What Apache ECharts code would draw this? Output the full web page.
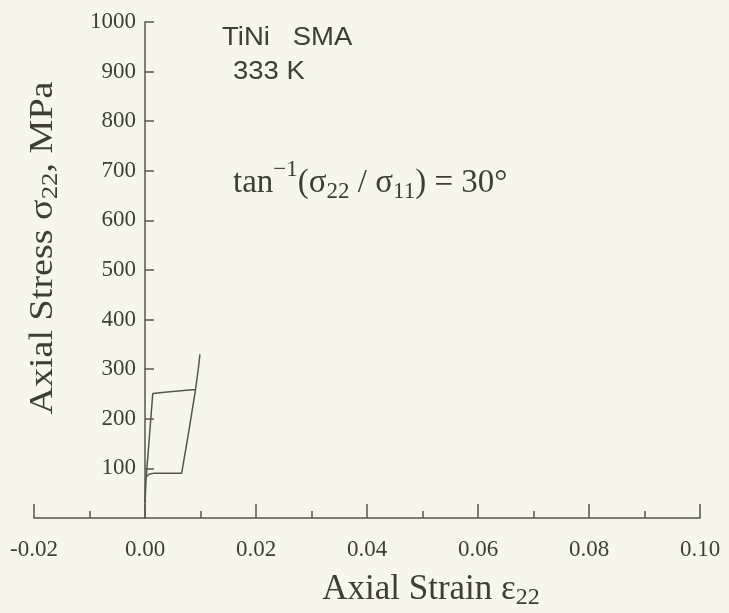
<!DOCTYPE html>
<html>
<head>
<meta charset="utf-8">
<script src="https://cdn.jsdelivr.net/npm/echarts@6/dist/echarts.min.js"></script>
<style>
html,body{margin:0;padding:0;background:#f6f7ea;}
#chart{width:729px;height:613px;}
</style>
</head>
<body>
<div id="chart"></div>
<script>
// Data: axial strain (x) and axial stress in MPa (y)
const strain = [0.0000, 0.0002, 0.0008, 0.0014, 0.0040, 0.0070, 0.0091, 0.0096, 0.0099, 0.0096, 0.0091, 0.0079, 0.0066, 0.0040, 0.0015, 0.0007, 0.0002, 0.0001, 0.0000];
const stress = [30, 80, 165, 251, 254, 257, 259, 300, 330, 300, 259, 175, 90, 90, 90, 88, 82, 70, 35];
const xTicks = [-0.02, 0.00, 0.02, 0.04, 0.06, 0.08, 0.10];
const yTicks = [100, 200, 300, 400, 500, 600, 700, 800, 900, 1000];

const ink = '#3e3e36';
const lineCol = '#55554d';
const serif = 'Liberation Serif';

const W = 729, gridLeft = 34, gridRight = 29;
const xMin = xTicks[0], xMax = xTicks[xTicks.length - 1];
// place the y axis where strain = 0 (layout only)
const yAxisOffset = -(W - gridLeft - gridRight) * (0 - xMin) / (xMax - xMin);

const chart = echarts.init(document.getElementById('chart'));
chart.setOption({
  backgroundColor: '#f6f7ea',
  animation: false,
  grid: {left: gridLeft, right: gridRight, top: 22, bottom: 95, containLabel: false, outerBoundsMode: 'none'},
  xAxis: {
    type: 'value',
    min: xMin, max: xMax, interval: 0.02,
    axisLine: {show: true, onZero: true, lineStyle: {color: lineCol, width: 1.5}},
    axisTick: {show: true, inside: true, length: 14, lineStyle: {color: lineCol, width: 1.5}},
    minorTick: {show: true, splitNumber: 2, length: 7, lineStyle: {color: lineCol, width: 1.5}},
    splitLine: {show: false},
    axisLabel: {
      margin: 20, color: ink, fontFamily: serif, fontSize: 23,
      formatter: v => v.toFixed(2)
    }
  },
  yAxis: {
    type: 'value',
    min: 0, max: yTicks[yTicks.length - 1], interval: 100,
    offset: yAxisOffset,
    axisLine: {show: true, onZero: false, lineStyle: {color: lineCol, width: 1.5}},
    axisTick: {show: true, inside: true, length: 9, lineStyle: {color: lineCol, width: 1.5}},
    splitLine: {show: false},
    axisLabel: {
      margin: 9, color: ink, fontFamily: serif, fontSize: 23,
      showMinLabel: false,
      formatter: v => (yTicks.indexOf(v) >= 0 ? String(v) : '')
    }
  },
  series: [{
    type: 'line',
    showSymbol: false,
    data: strain.map((s, i) => [s, stress[i]]),
    lineStyle: {color: lineCol, width: 1.5},
    z: 3
  }],
  graphic: [
    {type: 'text', x: 222, y: 38, scaleX: 1.1, style: {text: 'TiNi   SMA', font: '25px "Liberation Sans"', fill: ink, verticalAlign: 'middle'}},
    {type: 'text', x: 233, y: 72, scaleX: 1.1, style: {text: '333 K', font: '25px "Liberation Sans"', fill: ink, verticalAlign: 'middle'}},
    {type: 'text', left: 233, top: 158, style: {
      text: 'tan{sup|−1}(σ{sub|22} / σ{sub|11}) = 30°',
      fill: ink, fontFamily: serif, fontSize: 33,
      rich: {
        sup: {fontFamily: serif, fontSize: 23, fill: ink, verticalAlign: 'bottom', padding: [0, 0, 27, 0]},
        sub: {fontFamily: serif, fontSize: 23, fill: ink, verticalAlign: 'top', padding: [22, 0, 0, 0]}
      }
    }},
    {type: 'text', x: 431, y: 590, style: {
      text: 'Axial Strain ε{sub|22}', fill: ink, fontFamily: serif, fontSize: 35,
      align: 'center', verticalAlign: 'middle',
      rich: {sub: {fontFamily: serif, fontSize: 24, fill: ink, verticalAlign: 'top', padding: [15, 0, 0, 0]}}
    }},
    {type: 'text', x: 43, y: 248, rotation: Math.PI / 2, scaleX: 1.12, style: {
      text: 'Axial Stress σ{sub|22}, MPa', fill: ink, fontFamily: serif, fontSize: 34,
      align: 'center', verticalAlign: 'middle',
      rich: {sub: {fontFamily: serif, fontSize: 24, fill: ink, verticalAlign: 'top', padding: [15, 0, 0, 0]}}
    }}
  ]
});
</script>
</body>
</html>
